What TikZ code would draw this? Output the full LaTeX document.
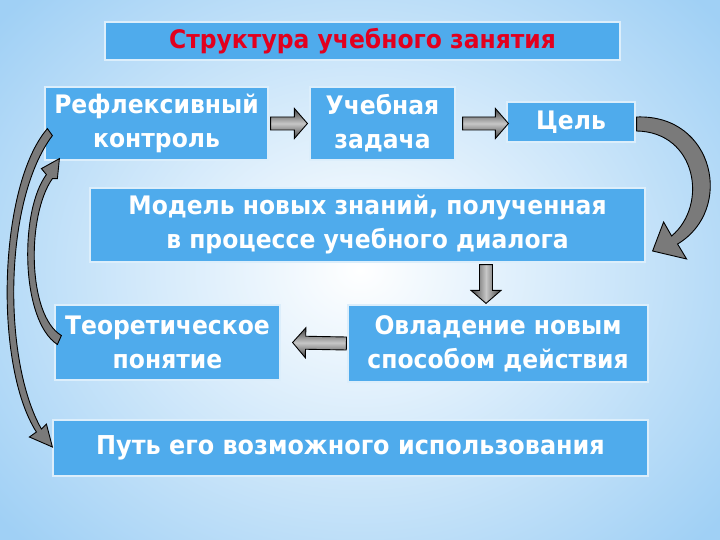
\documentclass[tikz,border=0pt]{standalone}
\usepackage{fontspec}
\setmainfont{DejaVu Sans}[FakeStretch=0.92]
\usepackage{tikz}
\usetikzlibrary{calc,positioning}

\definecolor{boxblue}{RGB}{79,171,236}
\definecolor{bgblue}{RGB}{160,208,245}
\definecolor{titlered}{RGB}{226,0,30}

% block arrow between two points: shaft 6.5pt, head 15pt wide, 13pt long
\newcommand{\blockarrow}[3][]{%
  \coordinate (ba-s) at (#2);
  \coordinate (ba-e) at (#3);
  \coordinate (ba-m) at ($(ba-e)!13pt!(ba-s)$);
  \draw[blockarr, #1] ($(ba-s)!6.5pt!90:(ba-e)$) -- ($(ba-m)!6.5pt!90:(ba-e)$)
    -- ($(ba-m)!15pt!90:(ba-e)$) -- (ba-e) -- ($(ba-m)!15pt!-90:(ba-e)$)
    -- ($(ba-m)!6.5pt!-90:(ba-e)$) -- ($(ba-s)!6.5pt!-90:(ba-e)$) -- cycle;}

\begin{document}
\begin{tikzpicture}[x=1pt, y=-1pt]
        % Styles
        \tikzstyle{box} = [rectangle, fill=boxblue, draw=white!80!boxblue, line width=1.2pt, inner sep=0pt, align=center, text=white, font=\fontsize{25.5}{34}\selectfont\bfseries]
        \tikzstyle{blockarr} = [draw=black, line width=0.9pt, top color=black!75, bottom color=black!75, middle color=black!22]
        \tikzstyle{curvearr} = [draw=black, line width=0.9pt, fill=black!52]

        % Background
        \useasboundingbox (0,0) rectangle (720,540);
        \shade[inner color=white, outer color=bgblue] (-110,-120) rectangle (830,660);

        % Nodes
        \node [box, minimum width=515pt, minimum height=38pt, text=titlered, font=\fontsize{25.5}{30}\selectfont\bfseries] (title) at (362.5,41) {Структура учебного занятия};
        \node [box, minimum width=223pt, minimum height=73pt] (reflex) at (156.5,123.5) {Рефлексивный\\контроль};
        \node [box, minimum width=145pt, minimum height=73pt] (task) at (382.5,123.5) {Учебная\\задача};
        \node [box, minimum width=128pt, minimum height=40pt] (goal) at (571,122) {Цель};
        \node [box, minimum width=555pt, minimum height=74pt] (model) at (367.5,225) {Модель новых знаний, полученная\\в процессе учебного диалога};
        \node [box, minimum width=225pt, minimum height=75pt] (theory) at (167.5,342.5) {Теоретическое\\понятие};
        \node [box, minimum width=300pt, minimum height=77pt] (mastery) at (498,343.5) {Овладение новым\\способом действия};
        \node [box, minimum width=595pt, minimum height=56pt, font=\fontsize{26}{30}\selectfont\bfseries] (usage) at (350.5,448) {Путь его возможного использования};

        % Edges
        \blockarrow{$(reflex.east)+(2,0)$}{$(task.west)+(-2,0)$}
        \blockarrow{$(task.east)+(7,0)$}{$(task.east -| goal.west)+(2,0)$}
        \blockarrow[shading angle=90]{$(model.south -| mastery.north)+(-12,2)$}{$(mastery.north)+(-12,-1)$}
        \blockarrow{$(mastery.west)+(-1,0)$}{$(theory.east)+(12,0)$}

        % Curved feedback arrows
        \draw [curvearr] ($(goal.east)+(1,-5)$) .. controls ($(goal.east)+(79,-8)$) and ($(goal.east)+(99,88)$) .. ($(model.east)+(32,19)$)
            -- ($(model.east)+(41,34)$) -- ($(model.east)+(7,26)$) -- ($(model.east)+(18,-3)$) -- ($(model.east)+(26,11)$)
            .. controls ($(model.east)+(63,-20)$) and ($(goal.east)+(61,10)$) .. ($(goal.east)+(1,9)$) -- cycle;
        \draw [curvearr] ($(reflex.south west)+(3,-32)$) .. controls ($(reflex.south west)+(-46,25)$) and ($(usage.west)+(-59,-83)$) .. ($(usage.west)+(-16,-16)$)
            -- ($(usage.west)+(-23,-11)$) -- ($(usage.west)+(0,-1)$) -- ($(usage.west)+(-6,-24)$) -- ($(usage.west)+(-11,-19)$)
            .. controls ($(usage.west)+(-50,-88)$) and ($(reflex.south west)+(-41,40)$) .. ($(reflex.south west)+(8,-25)$) -- cycle;
        \draw [curvearr] ($(theory.west)+(3,2)$) .. controls ($(theory.west)+(-34,-22)$) and ($(reflex.south west)+(-25,50)$) .. ($(reflex.south west)+(2,14)$)
            -- ($(reflex.south west)+(-3,8)$) -- ($(reflex.south west)+(15,-2)$) -- ($(reflex.south west)+(13,18)$) -- ($(reflex.south west)+(8,18)$)
            .. controls ($(reflex.south west)+(-18,55)$) and ($(theory.west)+(-27,-27)$) .. ($(theory.west)+(7,-7)$) -- cycle;
    \end{tikzpicture}
\end{document}
